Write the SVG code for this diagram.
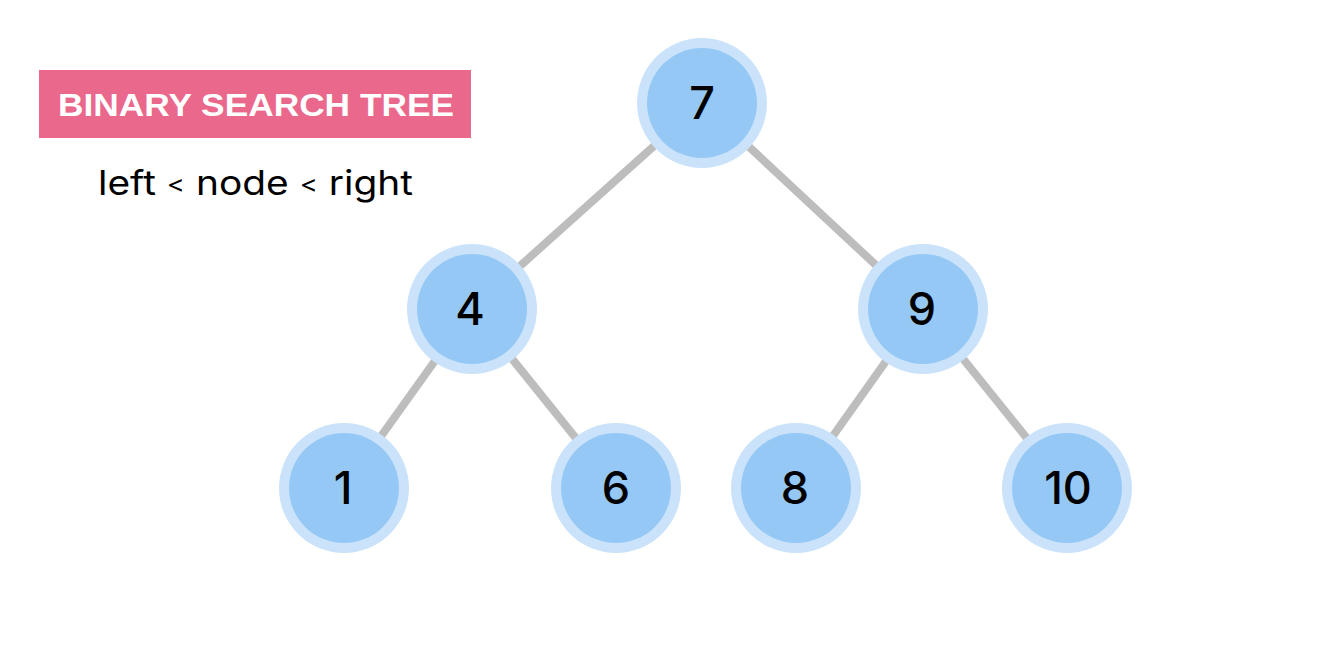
<svg xmlns="http://www.w3.org/2000/svg" width="1344" height="660" viewBox="0 0 1344 660">
<style>
.edge{stroke:#bdbdbd;stroke-width:8;stroke-linecap:butt}
.outer{fill:#cae3fa}
.inner{fill:#95c8f5}
.num{font-family:Inter,"Noto Sans",sans-serif;font-size:45px;font-weight:500;fill:#000;text-anchor:middle}
</style>
<rect width="1344" height="660" fill="#ffffff"/>
<g id="title">
<rect x="39" y="70" width="432" height="68" fill="#ea688c"/>
<text x="256" y="116" font-family="Liberation Sans,Arial,sans-serif" font-size="32" font-weight="bold" fill="#ffffff" text-anchor="middle" textLength="396" lengthAdjust="spacingAndGlyphs">BINARY SEARCH TREE</text>
</g>
<g id="subtitle">
<text x="98" y="195" font-family="Inter,'Noto Sans',sans-serif" font-size="34" font-weight="400" fill="#000" textLength="315" lengthAdjust="spacingAndGlyphs">left <tspan font-size="24" dy="-3">&lt;</tspan><tspan dy="3"> node </tspan><tspan font-size="24" dy="-3">&lt;</tspan><tspan dy="3"> right</tspan></text>
</g>
<g id="connectors">
<line class="edge" x1="702" y1="103" x2="472" y2="309"/>
<line class="edge" x1="702" y1="103" x2="923" y2="309"/>
<line class="edge" x1="472" y1="309" x2="344" y2="488"/>
<line class="edge" x1="472" y1="309" x2="616" y2="488"/>
<line class="edge" x1="923" y1="309" x2="796" y2="488"/>
<line class="edge" x1="923" y1="309" x2="1067" y2="488"/>
</g>
<g id="node7"><circle class="outer" cx="702" cy="103" r="65"/><circle class="inner" cx="702" cy="103" r="55"/><text class="num" x="702" y="119">7</text></g>
<g id="node4"><circle class="outer" cx="472" cy="309" r="65"/><circle class="inner" cx="472" cy="309" r="55"/><text class="num" x="470" y="325">4</text></g>
<g id="node9"><circle class="outer" cx="923" cy="309" r="65"/><circle class="inner" cx="923" cy="309" r="55"/><text class="num" x="922" y="325">9</text></g>
<g id="node1"><circle class="outer" cx="344" cy="488" r="65"/><circle class="inner" cx="344" cy="488" r="55"/><text class="num" x="343" y="504">1</text></g>
<g id="node6"><circle class="outer" cx="616" cy="488" r="65"/><circle class="inner" cx="616" cy="488" r="55"/><text class="num" x="616" y="504">6</text></g>
<g id="node8"><circle class="outer" cx="796" cy="488" r="65"/><circle class="inner" cx="796" cy="488" r="55"/><text class="num" x="795" y="504">8</text></g>
<g id="node10"><circle class="outer" cx="1067" cy="488" r="65"/><circle class="inner" cx="1067" cy="488" r="55"/><text class="num" x="1068" y="504">10</text></g>
</svg>
